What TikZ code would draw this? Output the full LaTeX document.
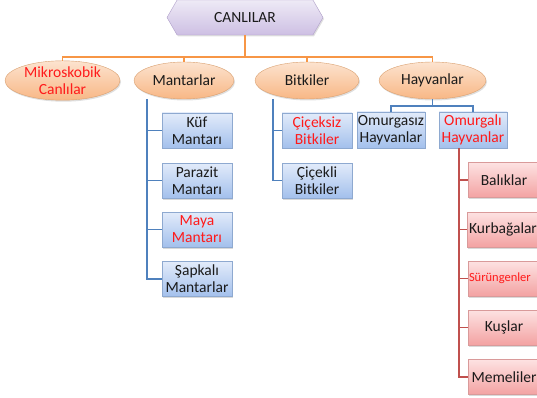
\documentclass[tikz,border=0pt]{standalone}
\usepackage{fontspec}
\setmainfont{Carlito}
\usetikzlibrary{shapes.geometric,shapes.symbols,shadows}
\definecolor{redtxt}{HTML}{FF1A1A}
\definecolor{txt}{HTML}{1A1A1A}
\definecolor{orline}{HTML}{F79646}
\definecolor{bline}{HTML}{4F81BD}
\definecolor{rline}{HTML}{C0504D}
\definecolor{btop}{HTML}{E2EBFA}
\definecolor{bbot}{HTML}{A3C0EC}
\definecolor{bdraw}{HTML}{8EA9D0}
\definecolor{rtopc}{HTML}{FDE2E2}
\definecolor{rbot}{HTML}{F3A2A2}
\definecolor{rdraw}{HTML}{D99A9A}
\definecolor{otop}{HTML}{FCE3CF}
\definecolor{obot}{HTML}{F8B785}
\definecolor{odraw}{HTML}{D9A070}
\definecolor{vtop}{HTML}{EEEAF6}
\definecolor{vbot}{HTML}{CDBFE3}
\definecolor{vdraw}{HTML}{B0A0CA}
\tikzset{
  lbl/.style={font=\fontsize{15.5}{17}\selectfont, text=txt, align=center, inner sep=0pt},
  hexa/.style={lbl, signal, signal to=west and east, signal pointer angle=120,
    minimum width=156, minimum height=35, draw=vdraw, top color=vtop, bottom color=vbot,
    drop shadow={opacity=0.25, shadow xshift=1pt, shadow yshift=-1.5pt}},
  ell/.style={lbl, ellipse, minimum height=37, draw=odraw, top color=otop, bottom color=obot,
    drop shadow={opacity=0.25, shadow xshift=1pt, shadow yshift=-1.5pt}},
  bbox/.style={lbl, rectangle, minimum width=70, minimum height=35, draw=bdraw, top color=btop, bottom color=bbot,
    drop shadow={opacity=0.3, shadow xshift=1pt, shadow yshift=-1.5pt}},
  rbox/.style={lbl, rectangle, minimum width=72, minimum height=35, draw=rdraw, top color=rtopc, bottom color=rbot,
    drop shadow={opacity=0.3, shadow xshift=1pt, shadow yshift=-1.5pt}},
  oline/.style={draw=orline, line width=1.3pt},
  bl/.style={draw=bline, line width=1.3pt},
  rl/.style={draw=rline, line width=1.3pt},
  rt/.style={text=redtxt}
}
\begin{document}
\begin{tikzpicture}[x=1pt,y=-1pt]
\useasboundingbox (0,0) rectangle (537,398);
\clip (0,0) rectangle (537,398);
% root
\node[hexa] (root) at (245,17.5) {CANLILAR};
% level 1
\node[ell, minimum width=115, rt] (mik) at (62.5,80.5) {Mikroskobik\\Canlılar};
\node[ell, minimum width=100] (man) at (184,80.5) {Mantarlar};
\node[ell, minimum width=104] (bit) at (307,80.5) {Bitkiler};
\node[ell, minimum width=107] (hay) at (432.5,80.5) {Hayvanlar};
\coordinate (hj) at (245,57);
\draw[oline] (root.south) -- (hj);
\draw[oline] (hj) -| (mik.north);
\draw[oline] (hj) -| (man.north);
\draw[oline] (hj) -| (bit.north);
\draw[oline] (hj) -| (hay.north);
% mantarlar
\node[bbox] (kuf) at (197,130.5) {Küf\\Mantarı};
\node[bbox] (par) at (197,180.5) {Parazit\\Mantarı};
\node[bbox, rt] (may) at (197,229.5) {Maya\\Mantarı};
\node[bbox] (sap) at (197,279) {Şapkalı\\Mantarlar};
\coordinate (mtop) at (147,99);
\draw[bl] (mtop) |- (sap.west);
\draw[bl] (mtop |- kuf.west) -- (kuf.west);
\draw[bl] (mtop |- par.west) -- (par.west);
\draw[bl] (mtop |- may.west) -- (may.west);
% bitkiler
\node[bbox, rt] (cks) at (317,130.5) {Çiçeksiz\\Bitkiler};
\node[bbox] (ckl) at (317,180.5) {Çiçekli\\Bitkiler};
\coordinate (btop) at (273,99);
\draw[bl] (btop) |- (ckl.west);
\draw[bl] (btop |- cks.west) -- (cks.west);
% hayvanlar
\node[bbox, minimum width=68, minimum height=36] (omz) at (391,130) {Omurgasız\\Hayvanlar};
\node[bbox, minimum width=68, minimum height=36, rt] (oml) at (473,130) {Omurgalı\\Hayvanlar};
\coordinate (hyj) at (432.5,106);
\draw[bl] (hay.south) -- (hyj);
\draw[bl] (hyj) -| (omz.north);
\draw[bl] (hyj) -| (oml.north);
% omurgali
\node[rbox] (bal) at (504,180) {Balıklar};
\node[rbox] (kur) at (503,229.5) {Kurbağalar};
\node[rbox, rt, font=\fontsize{12.5}{14}\selectfont, text width=72, align=left] (sur) at (504,278.5) {\hspace*{1pt}Sürüngenler};
\node[rbox] (kus) at (504,327.5) {Kuşlar};
\node[rbox] (mem) at (504,377) {Memeliler};
\coordinate (rtop) at (459,148);
\draw[rl] (rtop) |- (mem.west);
\draw[rl] (rtop |- bal.west) -- (bal.west);
\draw[rl] (rtop |- kur.west) -- (kur.west);
\draw[rl] (rtop |- sur.west) -- (sur.west);
\draw[rl] (rtop |- kus.west) -- (kus.west);
\end{tikzpicture}
\end{document}
